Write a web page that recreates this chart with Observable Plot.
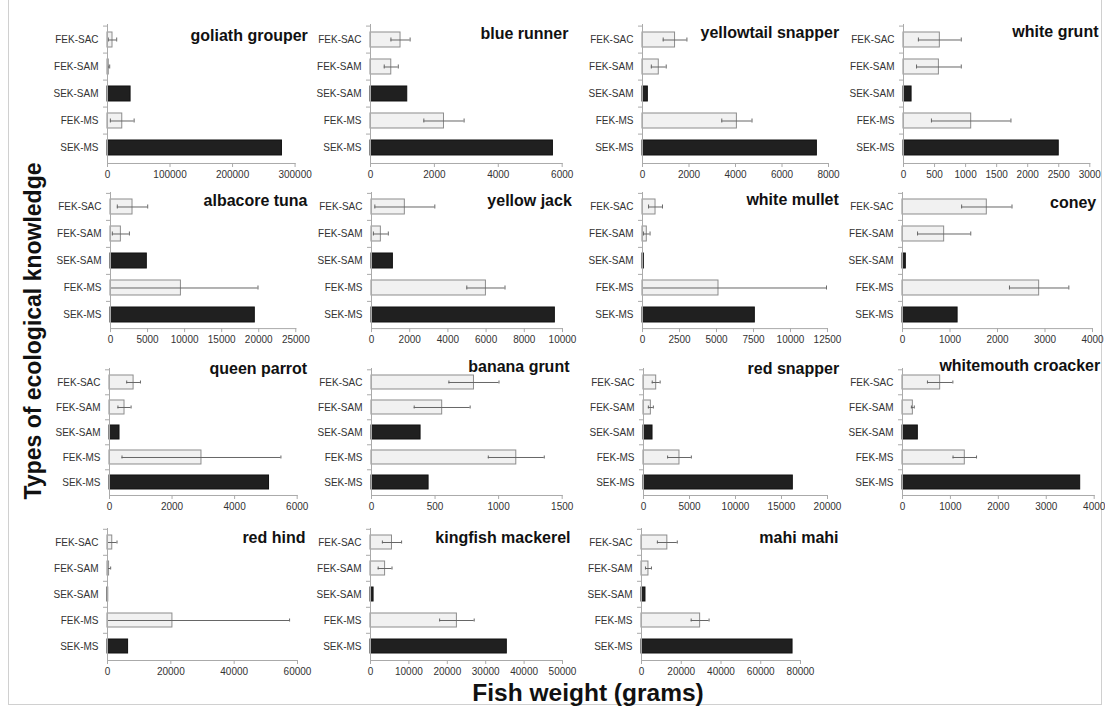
<!DOCTYPE html>
<html>
<head>
<meta charset="utf-8">
<script src="https://cdn.jsdelivr.net/npm/d3@7"></script>
<script src="https://cdn.jsdelivr.net/npm/@observablehq/plot@0.6"></script>
<style>
  html, body { margin: 0; padding: 0; background: #fff; }
  #root { position: relative; width: 1105px; height: 709px; overflow: hidden; font-family: "Liberation Sans", Arial, sans-serif; }
  .panel { position: absolute; }
  .panel svg { overflow: visible; max-width: none !important; display: block; }
  #ylab { position: absolute; left: 33px; top: 331px; transform: translate(-50%, -50%) rotate(-90deg); white-space: nowrap; font-weight: bold; font-size: 23px; color: #111; }
  #xlab { position: absolute; left: 588px; top: 693px; transform: translate(-50%, -50%); white-space: nowrap; font-weight: bold; font-size: 24.5px; color: #111; }
  #frame { position: absolute; left: 8px; top: -2px; width: 1094px; height: 707px; border: 1px solid #d0d0d0; box-sizing: border-box; }
</style>
</head>
<body>
<div id="root">
  <div id="frame"></div>
  <div id="ylab">Types of ecological knowledge</div>
  <div id="xlab">Fish weight (grams)</div>
</div>
<script>
// ---- data ----
const categories = ["FEK-SAC", "FEK-SAM", "SEK-SAM", "FEK-MS", "SEK-MS"];
const species = ["goliath grouper", "blue runner", "yellowtail snapper", "white grunt",
  "albacore tuna", "yellow jack", "white mullet", "coney",
  "queen parrot", "banana grunt", "red snapper", "whitemouth croacker",
  "red hind", "kingfish mackerel", "mahi mahi"];
const meanValues = [
  [8000, 2000, 36900, 23600, 279000],
  [940, 650, 1150, 2300, 5710],
  [1400, 700, 230, 4060, 7500],
  [585, 570, 130, 1090, 2500],
  [2970, 1400, 4900, 9500, 19470],
  [1745, 490, 1120, 5990, 9600],
  [880, 290, 90, 5135, 7590],
  [1775, 877, 70, 2877, 1160],
  [770, 480, 320, 2940, 5100],
  [806, 556, 386, 1139, 449],
  [1380, 800, 980, 3910, 16230],
  [786, 216, 320, 1300, 3708],
  [1500, 500, 200, 20500, 6500],
  [5600, 3800, 800, 22500, 35500],
  [13000, 3500, 2000, 29500, 76000]
];
const errorValues = [
  [6700, 1500, null, 19000, null],
  [300, 220, null, 630, null],
  [510, 320, null, 650, null],
  [345, 360, null, 640, null],
  [2050, 1150, null, 10400, null],
  [1570, 390, null, 1000, null],
  [470, 220, null, 7300, null],
  [530, 560, null, 625, null],
  [220, 210, null, 2540, null],
  [197, 220, null, 220, null],
  [430, 270, null, 1290, null],
  [265, 30, null, 245, null],
  [1500, 500, null, 37000, null],
  [2500, 1800, null, 4500, null],
  [5000, 1500, null, 4500, null]
];
const axisMax = [300000, 6000, 8000, 3000, 25000, 10000, 12500, 4000, 6000, 1500, 20000, 4000, 60000, 50000, 80000];
const tickStep = [100000, 2000, 2000, 500, 5000, 2000, 2500, 1000, 2000, 500, 5000, 1000, 20000, 10000, 20000];

// ---- layout (pixel placement of each panel) ----
const panelX0 = [106.7, 370, 642.3, 903, 109.7, 370.7, 641.7, 902.3, 109, 371, 643.3, 902.3, 107, 370, 641];
const panelX1 = [294.3, 561.7, 828.3, 1089.3, 295, 561.7, 826.7, 1092.3, 296.7, 561.7, 827.3, 1094, 297, 562, 800];
const rowTop = [24, 191.5, 368, 528];
const rowBottom = [163, 327.6, 495, 660];
const titleRight = [307, 568, 839, 1098, 306.7, 571, 838, 1096, 306.7, 569, 839, 1100, 305, 570, 838];
const titleY = [35, 33, 32, 31, 200, 200, 199, 202, 368, 366, 368, 365, 537, 537, 537];

const ML = 62, MR = 20, MT = 14, MB = 24;
const root = document.getElementById("root");

species.forEach((name, i) => {
  const row = Math.floor(i / 4);
  const x0 = panelX0[i], x1 = panelX1[i];
  const top = rowTop[row], bottom = rowBottom[row];
  const step = (bottom - top) / categories.length;
  const rows = categories.map((c, k) => ({
    cat: c,
    mean: meanValues[i][k],
    err: errorValues[i][k],
    dark: c.startsWith("SEK")
  }));
  const light = rows.filter(d => !d.dark);
  const dark = rows.filter(d => d.dark);
  const errs = rows.filter(d => d.err != null);
  const ticks = d3.range(0, axisMax[i] + tickStep[i] / 2, tickStep[i]);
  const W = (x1 - x0) + ML + MR;

  const chart = Plot.plot({
    width: W,
    height: (bottom - top) + MT + MB,
    marginLeft: ML, marginRight: MR, marginTop: MT, marginBottom: MB,
    style: { fontFamily: "'Liberation Sans', Arial, sans-serif", fontSize: "10px", color: "#333", background: "transparent", overflow: "visible" },
    x: { domain: [0, axisMax[i]], ticks: ticks, tickFormat: d => String(d), label: null },
    y: { domain: categories, paddingInner: 0.45, paddingOuter: 0.225, label: null },
    marks: [
      Plot.barX(light, { y: "cat", x: "mean", fill: "#f1f1f1", stroke: "#8c8c8c", strokeWidth: 1 }),
      Plot.barX(dark, { y: "cat", x: "mean", fill: "#202020", stroke: "#111", strokeWidth: 1 }),
      Plot.ruleY(errs, { y: "cat", x1: d => d.mean - d.err, x2: d => d.mean + d.err, stroke: "#666", strokeWidth: 1, clip: true }),
      Plot.tickX(errs, { y: "cat", x: d => d.mean - d.err, stroke: "#666", strokeWidth: 1, insetTop: 5.5, insetBottom: 5.5, clip: true }),
      Plot.tickX(errs, { y: "cat", x: d => d.mean + d.err, stroke: "#666", strokeWidth: 1, insetTop: 5.5, insetBottom: 5.5, clip: true }),
      Plot.frame({ anchor: "left", stroke: "#aaa" }),
      Plot.frame({ anchor: "bottom", stroke: "#aaa" }),
      Plot.axisY({ tickSize: 4, tickFormat: () => "", dy: -step / 2, stroke: "#aaa" }),
      Plot.axisX({ ticks: ticks, tickFormat: d => String(d), tickSize: 4, tickPadding: 3, stroke: "#aaa", fill: "#333", fontSize: 10 }),
      Plot.axisY({ tickSize: 0, tickPadding: 9, fill: "#333", fontSize: 10 }),
      Plot.text([name], {
        frameAnchor: "top-right", text: d => d, textAnchor: "end", lineAnchor: "middle",
        dx: titleRight[i] - x1, dy: titleY[i] - top,
        fontSize: 16, fontWeight: "bold", fill: "#111"
      })
    ]
  });
  const div = document.createElement("div");
  div.className = "panel";
  div.style.left = (x0 - ML) + "px";
  div.style.top = (top - MT) + "px";
  div.style.width = W + "px";
  div.appendChild(chart);
  root.appendChild(div);
});
</script>
</body>
</html>
